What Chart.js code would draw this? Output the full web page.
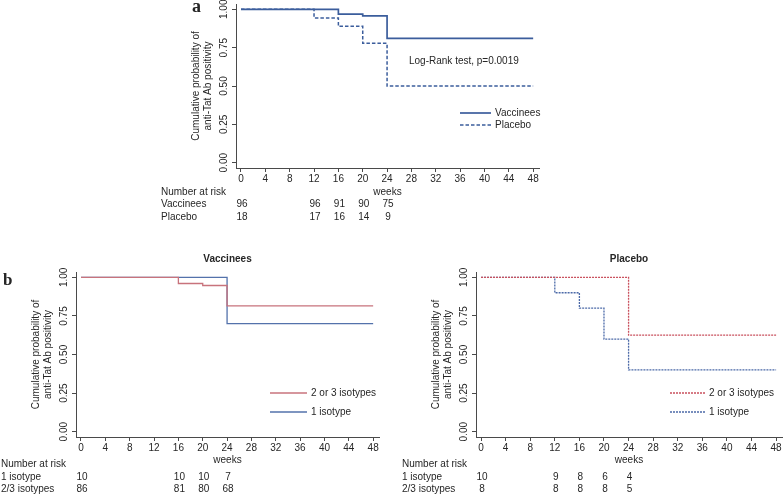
<!DOCTYPE html>
<html>
<head>
<meta charset="utf-8">
<script src="https://cdn.jsdelivr.net/npm/chart.js@4.4.0/dist/chart.umd.min.js"></script>
<style>
  html, body { margin: 0; padding: 0; background: #fff; }
  #wrap { position: relative; width: 784px; height: 496px; }
  canvas { position: absolute; left: 0; top: 0; }
</style>
</head>
<body>
<div id="wrap">
  <canvas id="chartA" width="784" height="496"></canvas>
  <canvas id="chartVacc" width="784" height="496"></canvas>
  <canvas id="chartPlac" width="784" height="496"></canvas>
</div>
<script>
// axis ticks
const weekTicks = [0, 4, 8, 12, 16, 20, 24, 28, 32, 36, 40, 44, 48];
const probTicks = [0, 0.25, 0.5, 0.75, 1];
const probLabels = ['0.00', '0.25', '0.50', '0.75', '1.00'];

// panel a: all subjects
const vaccTimes = [0, 16, 20, 24, 48];
const vaccSurv = [1, 0.968, 0.957, 0.81, 0.81];
const placTimes = [0, 12, 16, 20, 24, 48];
const placSurv = [1, 0.944, 0.889, 0.778, 0.5, 0.5];
const riskTimesA = [0, 12, 16, 20, 24];
const vaccRisk = [96, 96, 91, 90, 75];
const placRisk = [18, 17, 16, 14, 9];

// panel b left: vaccinees by isotypes
const vMultiTimes = [0, 16, 20, 24, 48];
const vMultiSurv = [1, 0.96, 0.947, 0.815, 0.815];
const vOneTimes = [0, 24, 48];
const vOneSurv = [1, 0.7, 0.7];
const riskTimesV = [0, 16, 20, 24];
const vOneRisk = [10, 10, 10, 7];
const vMultiRisk = [86, 81, 80, 68];

// panel b right: placebo by isotypes
const pMultiTimes = [0, 24, 48];
const pMultiSurv = [1, 0.625, 0.625];
const pOneTimes = [0, 12, 16, 20, 24, 48];
const pOneSurv = [1, 0.9, 0.8, 0.6, 0.4, 0.4];
const riskTimesP = [0, 12, 16, 20, 24];
const pOneRisk = [10, 9, 8, 6, 4];
const pMultiRisk = [8, 8, 8, 8, 5];

const FONT_FAMILY = '"Liberation Sans", Arial, sans-serif';
const TEXT = '#262626';
const AXIS = '#4a4a4a';
const X_MIN = -0.82, X_MAX = 48.96;
const Y_MIN = -0.0345, Y_MAX = 1.0345;
const XSCALE_H = 20;

function pts(times, surv) {
  return times.map((t, i) => ({ x: t, y: surv[i] }));
}

function kmPlugin(o) {
  return {
    id: 'kmExtras',
    afterDraw(chart) {
      const ctx = chart.ctx;
      const a = chart.chartArea;
      const xs = chart.scales.x, ys = chart.scales.y;
      ctx.save();
      ctx.fillStyle = TEXT;
      ctx.font = '10px ' + FONT_FAMILY;

      // rotated y tick labels
      probTicks.forEach((v, i) => {
        ctx.save();
        ctx.translate(a.left - 12, ys.getPixelForValue(v));
        ctx.rotate(-Math.PI / 2);
        ctx.textAlign = 'center';
        ctx.textBaseline = 'middle';
        ctx.fillText(probLabels[i], 0, 0);
        ctx.restore();
      });

      // y axis title, two lines
      const midY = (ys.getPixelForValue(0) + ys.getPixelForValue(1)) / 2;
      ['Cumulative probability of', 'anti-Tat Ab positivity'].forEach((line, i) => {
        ctx.save();
        ctx.translate(a.left - 40 + i * 12.5, midY);
        ctx.rotate(-Math.PI / 2);
        ctx.textAlign = 'center';
        ctx.textBaseline = 'middle';
        ctx.fillText(line, 0, 0);
        ctx.restore();
      });

      ctx.textBaseline = 'middle';
      // x axis title
      ctx.textAlign = 'center';
      ctx.fillText('weeks', (a.left + a.right) / 2, a.bottom + o.weeksDy);

      // number at risk table
      ctx.textAlign = 'left';
      ctx.fillText('Number at risk', a.left + o.tableDx, a.bottom + o.headDy);
      o.rows.forEach((r, i) => {
        const y = a.bottom + o.rowDy[i];
        ctx.textAlign = 'left';
        ctx.fillText(r.label, a.left + o.tableDx, y);
        ctx.textAlign = 'center';
        o.riskTimes.forEach((t, j) => {
          ctx.fillText(String(r.values[j]), xs.getPixelForValue(t) + 1, y);
        });
      });

      // legend
      o.legend.forEach((item, i) => {
        const ds = chart.data.datasets[item.index];
        const y = o.legendY[i];
        ctx.save();
        ctx.strokeStyle = ds.borderColor;
        ctx.lineWidth = ds.borderWidth;
        ctx.setLineDash(ds.borderDash || []);
        ctx.beginPath();
        ctx.moveTo(o.legendX, y);
        ctx.lineTo(o.legendX + o.legendLen, y);
        ctx.stroke();
        ctx.restore();
        ctx.textAlign = 'left';
        ctx.fillText(ds.label, o.legendX + o.legendLen + 4, y);
      });

      // panel title
      if (o.title) {
        ctx.font = 'bold 10px ' + FONT_FAMILY;
        ctx.textAlign = 'center';
        ctx.fillText(o.title, (a.left + a.right) / 2, o.titleY);
      }
      // note
      if (o.note) {
        ctx.font = '10px ' + FONT_FAMILY;
        ctx.textAlign = 'left';
        ctx.fillText(o.note.text, o.note.x, o.note.y);
      }
      // panel letter
      if (o.letter) {
        ctx.font = 'bold ' + o.letter.size + 'px "Liberation Serif", "Times New Roman", serif';
        ctx.textAlign = 'left';
        ctx.textBaseline = 'alphabetic';
        ctx.fillText(o.letter.text, o.letter.x, o.letter.y);
      }
      ctx.restore();
    }
  };
}

function makeChart(id, area, datasets, extras) {
  const ctx = document.getElementById(id).getContext('2d');
  return new Chart(ctx, {
    type: 'line',
    data: { datasets: datasets },
    options: {
      responsive: false,
      animation: false,
      events: [],
      layout: {
        padding: {
          left: area.left - 10,
          right: 784 - area.right,
          top: area.top,
          bottom: 496 - area.bottom - XSCALE_H
        }
      },
      elements: { point: { radius: 0 }, line: { tension: 0 } },
      plugins: { legend: { display: false }, tooltip: { enabled: false }, title: { display: false } },
      scales: {
        x: {
          type: 'linear',
          min: X_MIN,
          max: X_MAX,
          afterBuildTicks: s => { s.ticks = weekTicks.map(v => ({ value: v })); },
          afterFit: s => { s.height = XSCALE_H; s.paddingLeft = 0; s.paddingRight = 0; },
          ticks: { color: TEXT, font: { family: FONT_FAMILY, size: 10 }, padding: 1, maxRotation: 0, autoSkip: false },
          grid: { drawOnChartArea: false, tickLength: 4, color: AXIS },
          border: { color: AXIS, width: 1 }
        },
        y: {
          type: 'linear',
          min: Y_MIN,
          max: Y_MAX,
          afterBuildTicks: s => { s.ticks = probTicks.map(v => ({ value: v })); },
          afterFit: s => { s.width = 10; s.paddingTop = 0; s.paddingBottom = 0; },
          ticks: { display: false },
          grid: { drawOnChartArea: false, tickLength: 4, color: AXIS },
          border: { color: AXIS, width: 1 }
        }
      }
    },
    plugins: [kmPlugin(extras)]
  });
}

const blueA = '#3b5d9c';
makeChart('chartA', { left: 236, right: 539, top: 4, bottom: 168 }, [
  { label: 'Vaccinees', data: pts(vaccTimes, vaccSurv), stepped: true, borderColor: blueA, borderWidth: 1.7, fill: false },
  { label: 'Placebo', data: pts(placTimes, placSurv), stepped: true, borderColor: blueA, borderWidth: 1.5, borderDash: [3.5, 2], fill: false }
], {
  weeksDy: 24, headDy: 24, rowDy: [36, 49], tableDx: -75,
  riskTimes: riskTimesA,
  rows: [{ label: 'Vaccinees', values: vaccRisk }, { label: 'Placebo', values: placRisk }],
  legend: [{ index: 0 }, { index: 1 }], legendX: 460, legendLen: 31, legendY: [113, 125],
  note: { text: 'Log-Rank test, p=0.0019', x: 409, y: 61 },
  letter: { text: 'a', x: 192, y: 12, size: 18 }
});

const redB = '#c8737c';
const blueB = '#5372ab';
makeChart('chartVacc', { left: 76, right: 379, top: 272, bottom: 437 }, [
  { label: '2 or 3 isotypes', data: pts(vMultiTimes, vMultiSurv), stepped: true, borderColor: redB, borderWidth: 1.3, fill: false },
  { label: '1 isotype', data: pts(vOneTimes, vOneSurv), stepped: true, borderColor: blueB, borderWidth: 1.3, fill: false }
], {
  weeksDy: 23, headDy: 27, rowDy: [40, 52], tableDx: -75,
  riskTimes: riskTimesV,
  rows: [{ label: '1 isotype', values: vOneRisk }, { label: '2/3 isotypes', values: vMultiRisk }],
  legend: [{ index: 0 }, { index: 1 }], legendX: 270, legendLen: 37, legendY: [393, 412],
  title: 'Vaccinees', titleY: 259,
  letter: { text: 'b', x: 3, y: 285, size: 17 }
});

const redP = '#c9505d';
const blueP = '#4c6aa8';
makeChart('chartPlac', { left: 476, right: 782, top: 272, bottom: 437 }, [
  { label: '2 or 3 isotypes', data: pts(pMultiTimes, pMultiSurv), stepped: true, borderColor: redP, borderWidth: 1.3, borderDash: [2, 1], fill: false },
  { label: '1 isotype', data: pts(pOneTimes, pOneSurv), stepped: true, borderColor: blueP, borderWidth: 1.3, borderDash: [2, 1], fill: false }
], {
  weeksDy: 23, headDy: 27, rowDy: [40, 52], tableDx: -74,
  riskTimes: riskTimesP,
  rows: [{ label: '1 isotype', values: pOneRisk }, { label: '2/3 isotypes', values: pMultiRisk }],
  legend: [{ index: 0 }, { index: 1 }], legendX: 670, legendLen: 35, legendY: [393, 412],
  title: 'Placebo', titleY: 259
});
</script>
</body>
</html>
